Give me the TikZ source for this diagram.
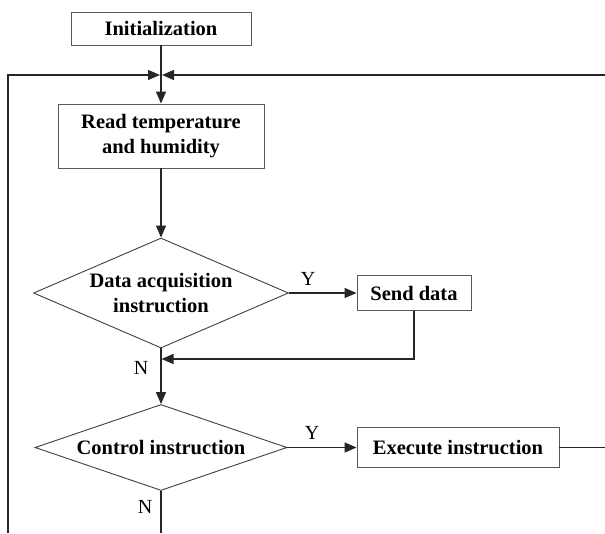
\documentclass[tikz,border=0pt]{standalone}
\usepackage{fontspec}
\setmainfont{Liberation Serif}
\usetikzlibrary{shapes.geometric,arrows.meta}

\begin{document}
\begin{tikzpicture}[x=1pt,y=-1pt,
    procbox/.style={draw=black!65,line width=0.9pt,rectangle,inner sep=0pt,align=center,
      font=\fontsize{20.5}{25}\selectfont\bfseries},
    decision/.style={draw=black!75,line width=0.9pt,diamond,inner sep=0pt,align=center,
      font=\fontsize{20.5}{25}\selectfont\bfseries},
    conn/.style={draw=black!85,line width=1.3pt},
    flow/.style={conn,-{Triangle[length=12pt,width=10pt]}},
    yn/.style={font=\fontsize{20}{24}\selectfont}]
    \useasboundingbox (0,0) rectangle (605,533);
    % boxes and decisions
    \node[procbox,minimum width=180pt,minimum height=33pt] (init) at (161,28.5) {Initialization};
    \coordinate (join) at (161,75);
    \node[procbox,minimum width=206pt,minimum height=64pt] (read) at (161,136) {Read temperature\\and humidity};
    \node[decision,aspect=2.32,minimum width=255pt,minimum height=110pt] (acq) at (161,293) {Data acquisition\\instruction};
    \node[procbox,minimum width=114pt,minimum height=35pt] (send) at (414,293) {Send data};
    \coordinate (merge) at (161,359);
    \node[decision,aspect=2.93,minimum width=252pt,minimum height=86pt] (ctrl) at (161,447.5) {Control instruction};
    \node[procbox,minimum width=202pt,minimum height=40pt] (exec) at (458,447.5) {Execute instruction};
    % loop ends
    \coordinate (leftbot) at (8,533);
    \coordinate (lefttop) at (8,75);
    \coordinate (righttop) at (605,75);
    \coordinate (rightmid) at (605,447.5);
    \coordinate (ctrlbot) at (161,533);
    % connectors
    \draw[conn] (init.south) -- (join);
    \draw[flow] (join) -- (read.north);
    \draw[flow,shorten >=1pt] (leftbot) -- (lefttop) -- (join);
    \draw[flow,shorten >=1pt] (righttop) -- (join);
    \draw[flow] (read.south) -- (acq.north);
    \draw[flow] (acq.east) -- (send.west);
    \draw[flow,shorten >=0.5pt] (send.south) |- (merge);
    \draw[conn] (acq.south) -- (merge);
    \draw[flow] (merge) -- (ctrl.north);
    \draw[flow] (ctrl.east) -- (exec.west);
    \draw[conn] (exec.east) -- (rightmid);
    \draw[conn] (ctrl.south) -- (ctrlbot);
    % branch labels
    \node[yn] (y1) at (308,279) {Y};
    \node[yn] (n1) at (141,368) {N};
    \node[yn] (y2) at (312,433) {Y};
    \node[yn] (n2) at (145,507) {N};
\end{tikzpicture}
\end{document}
